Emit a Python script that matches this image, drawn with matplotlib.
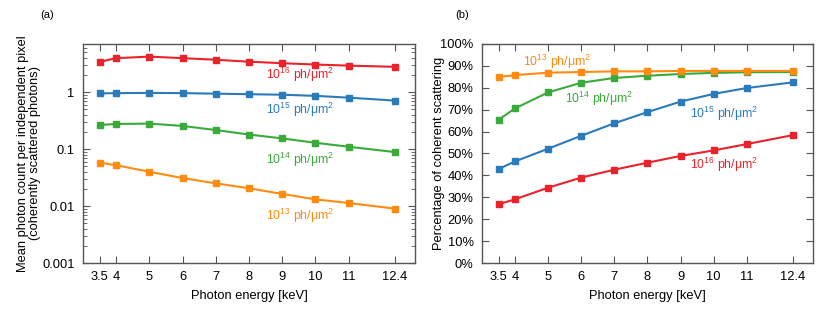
import matplotlib
matplotlib.use("Agg")
import matplotlib.pyplot as plt
from matplotlib.ticker import FixedLocator, FuncFormatter, LogLocator, NullFormatter

plt.rcParams["font.family"] = ["Liberation Sans", "DejaVu Sans"]
plt.rcParams["mathtext.fontset"] = "custom"
plt.rcParams["mathtext.rm"] = "Liberation Sans"
plt.rcParams["mathtext.it"] = "Liberation Sans:italic"

energy = [3.5, 4, 5, 6, 7, 8, 9, 10, 11, 12.4]
energy_ticks = ["3.5", "4", "5", "6", "7", "8", "9", "10", "11", "12.4"]

fluences = ["16", "15", "14", "13"]
colors = ["#e8232b", "#2b7bba", "#3aaa3a", "#ff8b13"]

# (a) mean photon count per independent pixel
count_16 = [3.4, 3.95, 4.2, 3.95, 3.7, 3.42, 3.22, 3.05, 2.92, 2.78]
count_15 = [0.95, 0.96, 0.97, 0.96, 0.94, 0.92, 0.90, 0.86, 0.80, 0.71]
count_14 = [0.265, 0.276, 0.28, 0.255, 0.216, 0.18, 0.154, 0.129, 0.11, 0.0885]
count_13 = [0.058, 0.052, 0.040, 0.031, 0.025, 0.0205, 0.0163, 0.0131, 0.0113, 0.009]

# (b) percentage of coherent scattering
pct_16 = [26.8, 29.1, 34.4, 39.0, 42.6, 45.8, 48.9, 51.4, 54.3, 58.4]
pct_15 = [42.9, 46.4, 52.2, 58.1, 63.8, 68.9, 73.7, 77.2, 79.9, 82.5]
pct_14 = [65.4, 70.6, 77.9, 82.3, 84.5, 85.5, 86.3, 86.8, 87.1, 87.2]
pct_13 = [84.9, 85.8, 86.9, 87.2, 87.5, 87.5, 87.7, 87.7, 87.7, 87.7]

# label anchors (x, y) for the fluence annotations
labels_a = [(8.5, 2.0), (8.5, 0.49), (8.5, 0.064), (8.5, 0.0066)]
labels_b = [(9.28, 44.6), (9.28, 68.0), (5.5, 75.0), (4.24, 91.9)]

counts = [count_16, count_15, count_14, count_13]
pcts = [pct_16, pct_15, pct_14, pct_13]

fig = plt.figure(figsize=(8.3, 3.1), dpi=100)
ax_a = fig.add_axes([0.1, 0.1516, 0.4, 0.7065])
ax_b = fig.add_axes([0.5807, 0.1516, 0.3988, 0.7065])

spine_color = "#555555"
fs = 9.3


def style_axis(ax):
    for sp in ax.spines.values():
        sp.set_color(spine_color)
        sp.set_linewidth(1.0)
    ax.tick_params(which="both", direction="in", top=True, right=True,
                   color=spine_color, labelsize=fs, pad=6)
    ax.tick_params(which="major", length=5)
    ax.tick_params(which="minor", length=3)
    ax.set_xlim(3, 13)
    ax.xaxis.set_major_locator(FixedLocator(energy))
    ax.set_xticklabels(energy_ticks)
    ax.set_xlabel("Photon energy [keV]", fontsize=fs, labelpad=5)


for ys, c, (lx, ly), f in zip(counts, colors, labels_a, fluences):
    ax_a.plot(energy, ys, color=c, lw=1.5, marker="s", ms=4)
    ax_a.text(lx, ly, f"10$^{{{f}}}$ ph/μm$^2$", color=c, fontsize=8.8,
              ha="left", va="center")

ax_a.set_yscale("log")
ax_a.set_ylim(0.001, 7)
ax_a.yaxis.set_major_locator(LogLocator(base=10, numticks=10))
ax_a.yaxis.set_minor_locator(LogLocator(base=10, subs=range(2, 10), numticks=10))
ax_a.yaxis.set_major_formatter(FuncFormatter(lambda v, p: f"{v:g}"))
ax_a.yaxis.set_minor_formatter(NullFormatter())
style_axis(ax_a)
ax_a.set_ylabel("Mean photon count per independent pixel\n(coherently scattered photons)",
                fontsize=fs, labelpad=1, linespacing=0.95)

for ys, c, (lx, ly), f in zip(pcts, colors, labels_b, fluences):
    ax_b.plot(energy, ys, color=c, lw=1.5, marker="s", ms=4)
    ax_b.text(lx, ly, f"10$^{{{f}}}$ ph/μm$^2$", color=c, fontsize=8.8,
              ha="left", va="center")

ax_b.set_ylim(0, 100)
ax_b.yaxis.set_major_locator(FixedLocator(range(0, 101, 10)))
ax_b.yaxis.set_major_formatter(FuncFormatter(lambda v, p: f"{v:.0f}%"))
style_axis(ax_b)
ax_b.set_ylabel("Percentage of coherent scattering", fontsize=fs, labelpad=-3)

fig.text(0.057, 0.952, "(a)", fontsize=8, ha="center", va="center")
fig.text(0.557, 0.952, "(b)", fontsize=8, ha="center", va="center")

fig.savefig("out.png", dpi=100)
plt.close(fig)
